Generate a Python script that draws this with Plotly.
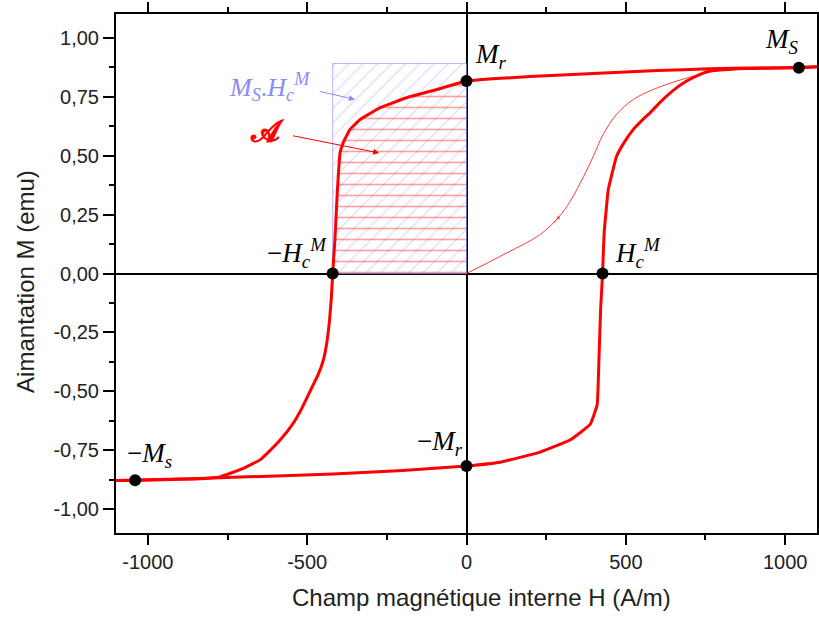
import plotly.graph_objects as go

# ---------------- data ----------------
# descending branch (from +Hmax to -Hmax)
H_desc = [1100, 1043, 900, 764, 600, 398, 200, 0, -93, -188, -271, -334, -366, -387, -397,
          -405, -413, -420, -424, -430, -438, -450, -466, -484, -502, -522, -544, -585, -620,
          -648, -700, -774, -850, -950, -1040, -1100]
M_desc = [0.876, 0.872, 0.871, 0.868, 0.860, 0.848, 0.835, 0.816, 0.780, 0.745, 0.703, 0.653,
          0.610, 0.554, 0.511, 0.356, 0.143, 0.0, -0.10, -0.20, -0.29, -0.37, -0.43, -0.48,
          -0.53, -0.585, -0.635, -0.706, -0.755, -0.79, -0.826, -0.862, -0.871, -0.874,
          -0.876, -0.877]

# ascending branch (from -Hmax to +Hmax)
H_asc = [-1100, -1040, -900, -732, -418, -200, 0, 105, 231, 325, 388, 410, 416, 421, 427,
         432, 445, 471, 497, 523, 550, 576, 602, 628, 660, 691, 730, 764, 850, 1000, 1100]
M_asc = [-0.877, -0.876, -0.871, -0.864, -0.850, -0.835, -0.816, -0.800, -0.757, -0.706,
         -0.640, -0.557, -0.350, -0.150, 0.0, 0.172, 0.356, 0.497, 0.560, 0.610, 0.648, 0.681,
         0.718, 0.752, 0.788, 0.816, 0.842, 0.858, 0.868, 0.872, 0.876]

# first magnetisation curve
H_init = [0, 126, 231, 290, 325, 367, 398, 429, 471, 524, 586, 660, 733, 800, 870]
M_init = [0, 0.087, 0.165, 0.240, 0.305, 0.410, 0.497, 0.590, 0.675, 0.738, 0.780, 0.816,
          0.844, 0.862, 0.869]

# characteristic points
pt_H = [0, 1043, -420, 427, 0, -1040]
pt_M = [0.816, 0.872, 0.0, 0.0, -0.816, -0.876]
pt_labels = ["<i>M<sub>r</sub></i>", "<i>M<sub>S</sub></i>",
             "−<i>H<sub>c</sub><sup>M</sup></i>", "<i>H<sub>c</sub><sup>M</sup></i>",
             "−<i>M<sub>r</sub></i>", "−<i>M<sub>s</sub></i>"]

# rectangle Ms.Hc
Hc_M = 420
Ms_rect = 0.89

# ticks
x_tick_vals = [-1000, -500, 0, 500, 1000]
x_tick_text = ["-1000", "-500", "0", "500", "1000"]
x_minor_vals = [-750, -250, 250, 750]
y_tick_vals = [1.0, 0.75, 0.5, 0.25, 0.0, -0.25, -0.5, -0.75, -1.0]
y_tick_text = ["1,00", "0,75", "0,50", "0,25", "0,00", "-0,25", "-0,50", "-0,75", "-1,00"]
y_minor_vals = [1.125, 0.875, 0.625, 0.375, 0.125, -0.125, -0.375, -0.625, -0.875]

RED = "#ff0000"
BLUE = "#8a8aff"

fig = go.Figure()

# blue hatched rectangle (Ms . Hc)
fig.add_trace(go.Scatter(
    x=[-Hc_M, 0, 0, -Hc_M, -Hc_M], y=[0, 0, Ms_rect, Ms_rect, 0],
    mode="lines", line=dict(color="rgba(150,150,255,0.7)", width=1),
    fill="toself", fillcolor="rgba(0,0,0,0)",
    fillpattern=dict(shape="/", fgcolor="rgba(140,140,255,0.75)", bgcolor="rgba(0,0,0,0)",
                     size=10, solidity=0.1),
    hoverinfo="skip"))

# red hatched area A (under the descending branch, between -Hc and 0)
area_H = [h for h, m in zip(H_desc, M_desc) if -Hc_M <= h <= 0 and m >= 0]
area_M = [m for h, m in zip(H_desc, M_desc) if -Hc_M <= h <= 0 and m >= 0]
area_H = area_H + [0, area_H[0]]
area_M = area_M + [0, area_M[0]]
fig.add_trace(go.Scatter(
    x=area_H, y=area_M, mode="none",
    fill="toself", fillcolor="rgba(0,0,0,0)",
    fillpattern=dict(shape="-", fgcolor="rgba(255,30,30,0.85)", bgcolor="rgba(0,0,0,0)",
                     size=11, solidity=0.15),
    hoverinfo="skip"))

# first magnetisation curve
fig.add_trace(go.Scatter(x=H_init, y=M_init, mode="lines",
                         line=dict(color="rgba(255,40,40,0.9)", width=1, shape="spline", smoothing=1.0)))

# hysteresis loop
fig.add_trace(go.Scatter(x=H_desc, y=M_desc, mode="lines",
                         line=dict(color=RED, width=3, shape="spline", smoothing=0.3)))
fig.add_trace(go.Scatter(x=H_asc, y=M_asc, mode="lines",
                         line=dict(color=RED, width=3, shape="spline", smoothing=0.3)))

# characteristic points
fig.add_trace(go.Scatter(x=pt_H, y=pt_M, mode="markers",
                         marker=dict(color="black", size=12)))

# point labels
lab_font = dict(family="Liberation Serif, DejaVu Serif, serif", size=27, color="black")
lab_pos = [("left", "bottom", 6, 6), ("right", "bottom", 2, 8),
           ("right", "bottom", -4, 0), ("left", "bottom", 10, 0),
           ("right", "bottom", -2, 4), ("left", "bottom", -10, 6)]
for h, m, t, (xa, ya, xs, ys) in zip(pt_H, pt_M, pt_labels, lab_pos):
    fig.add_annotation(x=h, y=m, text=t, showarrow=False, xanchor=xa, yanchor=ya,
                       xshift=xs, yshift=ys, font=lab_font)

# Ms.Hc label + arrow
fig.add_annotation(x=-617, y=0.789, text="<i>M<sub>S</sub></i>.<i>H<sub>c</sub><sup>M</sup></i>",
                   showarrow=False, font=dict(family="Liberation Serif, DejaVu Serif, serif",
                                              size=26, color=BLUE))
fig.add_annotation(x=-350, y=0.738, ax=-465, ay=0.773, axref="x", ayref="y", text="",
                   showarrow=True, arrowhead=2, arrowsize=1.2, arrowwidth=1, arrowcolor=BLUE)

# A label + arrow
fig.add_annotation(x=-626, y=0.606, text="<b>𝓐</b>", showarrow=False,
                   font=dict(family="DejaVu Serif, serif", size=30, color=RED))
fig.add_annotation(x=-274, y=0.511, ax=-549, ay=0.585, axref="x", ayref="y", text="",
                   showarrow=True, arrowhead=2, arrowsize=1.2, arrowwidth=1, arrowcolor=RED)

# small arrow on the first magnetisation curve
fig.add_annotation(x=292, y=0.242, ax=-7, ay=8, text="", showarrow=True,
                   arrowhead=1, arrowsize=1, arrowwidth=0.8, arrowcolor="rgba(255,40,40,0.9)")

# axis titles
fig.add_annotation(x=0.522, y=-0.125, xref="paper", yref="paper", xanchor="center", yanchor="middle",
                   text="Champ magnétique interne H (A/m)", showarrow=False,
                   font=dict(size=24, color="#222"))
fig.add_annotation(x=-0.13, y=0.4855, xref="paper", yref="paper", xanchor="center", yanchor="middle",
                   text="Aimantation M (emu)", textangle=-90, showarrow=False,
                   font=dict(size=24, color="#222"))

fig.update_layout(
    width=819, height=617,
    margin=dict(l=116, r=2, t=14, b=84, autoexpand=False),
    plot_bgcolor="white", paper_bgcolor="white",
    showlegend=False,
    font=dict(family="Liberation Sans, Arial, sans-serif", size=20, color="#222"),
)
fig.update_xaxes(range=[-1100, 1100], tickmode="array", tickvals=x_tick_vals, ticktext=x_tick_text,
                 ticks="outside", ticklen=10, tickwidth=2, tickcolor="black", automargin=False,
                 showline=True, linewidth=2, linecolor="black", mirror="ticks",
                 showgrid=False, zeroline=True, zerolinecolor="black", zerolinewidth=2,
                 minor=dict(tickmode="array", tickvals=x_minor_vals, ticks="outside",
                            ticklen=5, tickwidth=2, tickcolor="black", showgrid=False))
fig.update_yaxes(range=[-1.1, 1.1], tickmode="array", tickvals=y_tick_vals, ticktext=y_tick_text,
                 ticks="outside", ticklen=11, tickwidth=2, tickcolor="black", automargin=False,
                 showline=True, linewidth=2, linecolor="black", mirror=True,
                 showgrid=False, zeroline=True, zerolinecolor="black", zerolinewidth=2,
                 minor=dict(tickmode="array", tickvals=y_minor_vals, ticks="outside",
                            ticklen=5, tickwidth=2, tickcolor="black", showgrid=False))

fig.write_html("out.html", config={"displayModeBar": False},
               post_script="document.body.style.margin='0px';document.body.style.overflow='hidden';")
